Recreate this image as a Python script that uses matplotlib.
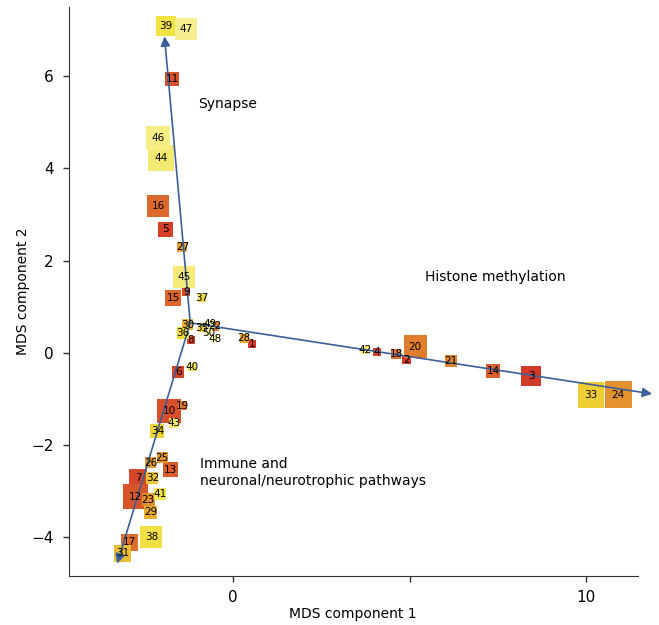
import matplotlib.pyplot as plt
from matplotlib.colors import LinearSegmentedColormap

# MDS coordinates of the 50 gene sets (label = id)
ids = list(range(1, 51))
mds1 = [0.54, 4.90, 8.44, 4.08, -1.93, -1.56, -2.69, -1.20, -1.33, -1.81,
        -1.73, -2.78, -1.78, 7.37, -1.70, -2.12, -2.95, 4.62, -1.44, 5.16,
        6.18, -0.52, -2.41, 10.91, -2.01, -2.35, -1.44, 0.31, -2.35, -1.30,
        -3.14, -2.29, 10.14, -2.15, -0.88, -1.42, -0.88, -2.32, -1.90, -1.16,
        -2.07, 3.74, -1.67, -2.04, -1.39, -2.12, -1.33, -0.52, -0.65, -0.70]
mds2 = [0.19, -0.15, -0.50, 0.02, 2.68, -0.41, -2.71, 0.28, 1.32, -1.26,
        5.93, -3.12, -2.53, -0.39, 1.19, 3.18, -4.11, -0.02, -1.15, 0.13,
        -0.17, 0.58, -3.18, -0.91, -2.27, -2.38, 2.29, 0.32, -3.46, 0.61,
        -4.35, -2.71, -0.91, -1.69, 0.54, 0.43, 1.19, -4.00, 7.08, -0.30,
        -3.07, 0.06, -1.52, 4.22, 1.65, 4.65, 7.01, 0.30, 0.62, 0.44]
# relative set size (square side)
set_size = [8, 9, 20, 8, 15, 12, 18, 8, 8, 24,
            14, 25, 15, 14, 16, 22, 17, 10, 9, 23,
            12, 9, 13, 27, 11, 11, 10, 9, 13, 11,
            17, 12, 26, 14, 9, 12, 8, 22, 20, 8,
            12, 8, 10, 26, 22, 24, 22, 7, 9, 7]

# axis end points of the three component arrows
arrow_origin = (-1.22, 0.65)
arrow_tips = [(-1.95, 6.86), (11.87, -0.89), (-3.29, -4.57)]

cmap = LinearSegmentedColormap.from_list(
    'rank', [(0.0, '#d13628'), (0.22, '#d8542a'), (0.42, '#e1862d'),
             (0.56, '#e8a832'), (0.68, '#f0d834'), (0.8, '#f2e44a'),
             (1.0, '#f8f2aa')])

fig = plt.figure(figsize=(6.59, 6.25), dpi=100)
ax = fig.add_axes([0.104, 0.079, 0.864, 0.91])

for i, n in enumerate(ids):
    side_pt = set_size[i] * 0.72
    ax.scatter(mds1[i], mds2[i], s=side_pt ** 2, marker='s',
               color=cmap((n - 1) / 49), edgecolors='none', zorder=2 + i * 0.01)

for tip in arrow_tips:
    ax.annotate('', xy=tip, xytext=arrow_origin, zorder=3,
                arrowprops=dict(arrowstyle='-|>', color='#3b5f98', lw=1.2,
                                mutation_scale=14, shrinkA=0, shrinkB=0),
                annotation_clip=False)

for i, n in enumerate(ids):
    ax.text(mds1[i], mds2[i], str(n), ha='center', va='center',
            fontsize=7.5, color='black', zorder=4)

ax.text(-0.99, 5.39, 'Synapse', fontsize=10, va='center')
ax.text(5.44, 1.65, 'Histone methylation', fontsize=10, va='center')
ax.text(-0.93, -2.60, 'Immune and\nneuronal/neurotrophic pathways',
        fontsize=10, va='center', linespacing=1.3)

ax.set_xlim(-4.67, 11.47)
ax.set_ylim(-4.83, 7.5)
ax.set_xticks([0, 5, 10])
ax.set_xticklabels(['0', '', '10'])
ax.set_yticks([-4, -2, 0, 2, 4, 6])
ax.set_yticklabels(['\u22124', '\u22122', '0', '2', '4', '6'])
ax.tick_params(direction='out', length=4.5, width=1, pad=6, labelsize=11,
               color='#333333')
for side in ['left', 'bottom']:
    ax.spines[side].set_color('#333333')
ax.spines['top'].set_visible(False)
ax.spines['right'].set_visible(False)
ax.set_xlabel('MDS component 1', fontsize=10, labelpad=1)
ax.set_ylabel('MDS component 2', fontsize=10, labelpad=1)

fig.savefig('out.png', dpi=100)
